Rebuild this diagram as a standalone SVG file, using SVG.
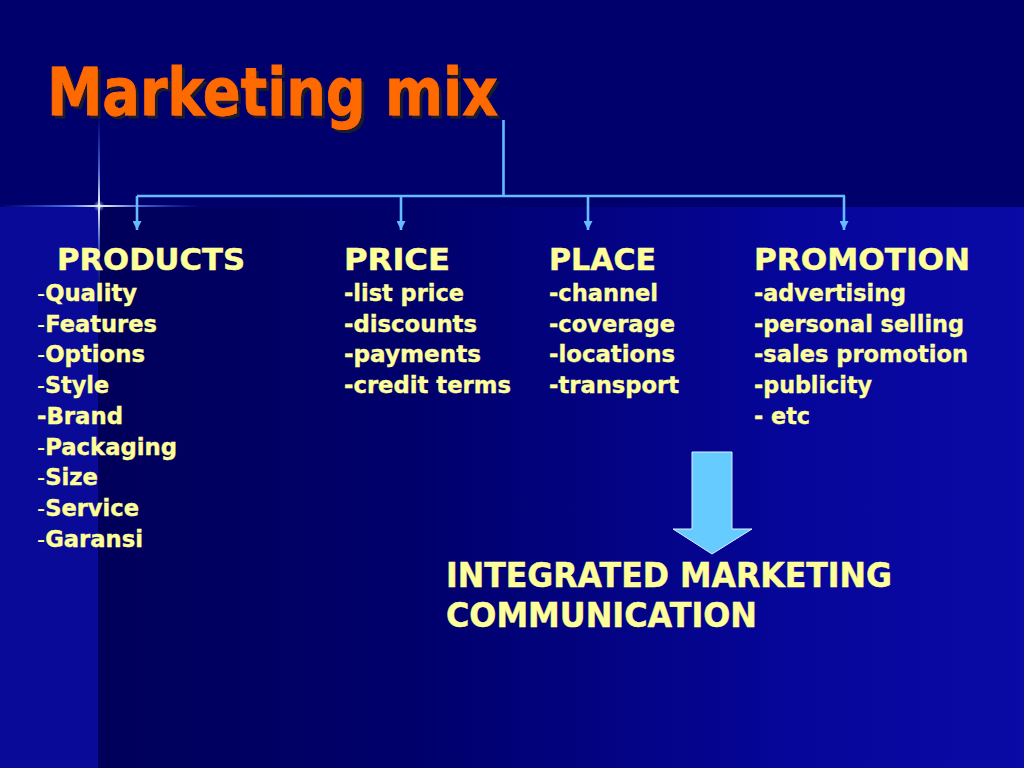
<svg xmlns="http://www.w3.org/2000/svg" width="1024" height="768" viewBox="0 0 1024 768">
<defs>
<style>
.hd{font-family:"DejaVu Sans",Verdana,sans-serif;font-weight:bold;font-size:31px;fill:#ffff99;stroke:#ffff99;stroke-width:0.5}
.it{font-family:"DejaVu Sans",Verdana,sans-serif;font-weight:bold;font-size:23px;fill:#ffff99;stroke:#ffff99;stroke-width:0.4}
.thin{font-weight:normal;stroke-width:0}
.imc{font-family:"DejaVu Sans",Verdana,sans-serif;font-weight:bold;font-size:33px;fill:#ffff99;stroke:#ffff99;stroke-width:0.5}
.title{font-family:"DejaVu Sans",Verdana,sans-serif;font-weight:bold;font-size:65px;fill:#ff6a00;stroke:#ff6a00;stroke-width:0.8}
.conn{stroke:#66bbff;stroke-width:2.6;fill:none}
</style>
<filter id="shadow" x="-5%" y="-20%" width="115%" height="150%">
<feDropShadow dx="3" dy="3" stdDeviation="0.6" flood-color="#1a1a2a" flood-opacity="1"/>
</filter>
<linearGradient id="lower" x1="0" y1="0" x2="1" y2="0">
<stop offset="0" stop-color="#00005a"/>
<stop offset="0.35" stop-color="#00006c"/>
<stop offset="0.75" stop-color="#06069a"/>
<stop offset="1" stop-color="#0a0aa6"/>
</linearGradient>
<linearGradient id="sparkH" x1="0" y1="206" x2="200" y2="206" gradientUnits="userSpaceOnUse">
<stop offset="0" stop-color="#3366ff" stop-opacity="0"/>
<stop offset="0.35" stop-color="#6699ff" stop-opacity="0.8"/>
<stop offset="0.5" stop-color="#ffffee" stop-opacity="1"/>
<stop offset="0.7" stop-color="#6699ff" stop-opacity="0.7"/>
<stop offset="1" stop-color="#3366ff" stop-opacity="0"/>
</linearGradient>
<linearGradient id="sparkV" x1="99" y1="115" x2="99" y2="300" gradientUnits="userSpaceOnUse">
<stop offset="0" stop-color="#3366ff" stop-opacity="0"/>
<stop offset="0.3" stop-color="#6699ff" stop-opacity="0.7"/>
<stop offset="0.49" stop-color="#ffffee" stop-opacity="1"/>
<stop offset="0.7" stop-color="#6699ff" stop-opacity="0.6"/>
<stop offset="1" stop-color="#3366ff" stop-opacity="0"/>
</linearGradient>
<radialGradient id="glow">
<stop offset="0" stop-color="#ffffdd" stop-opacity="0.9"/>
<stop offset="1" stop-color="#6699ff" stop-opacity="0"/>
</radialGradient>
<marker id="ah" viewBox="0 0 10 10" refX="10" refY="5" markerWidth="10" markerHeight="9" markerUnits="userSpaceOnUse" orient="auto">
<path d="M0,0 L10,5 L0,10 z" fill="#66bbff"/>
</marker>
</defs>

<g id="background">
<rect x="0" y="0" width="1024" height="768" fill="#00006c"/>
<rect x="0" y="207" width="98" height="561" fill="#0a0a98"/>
<rect x="98" y="207" width="926" height="561" fill="url(#lower)"/>
<line x1="0" y1="206" x2="200" y2="206" stroke="url(#sparkH)" stroke-width="2"/>
<line x1="99" y1="115" x2="99" y2="300" stroke="url(#sparkV)" stroke-width="2"/>
<circle cx="99" cy="206" r="6" fill="url(#glow)"/>
</g>

<g id="title">
<text class="title" x="47" y="115" textLength="451" lengthAdjust="spacingAndGlyphs" filter="url(#shadow)">Marketing mix</text>
</g>

<g id="connectors">
<path class="conn" d="M503.5,120 V196 M137,196 H845"/>
<line class="conn" x1="137" y1="196" x2="137" y2="230" marker-end="url(#ah)"/>
<line class="conn" x1="401" y1="196" x2="401" y2="230" marker-end="url(#ah)"/>
<line class="conn" x1="588" y1="196" x2="588" y2="230" marker-end="url(#ah)"/>
<line class="conn" x1="844" y1="196" x2="844" y2="230" marker-end="url(#ah)"/>
</g>

<g id="products">
<text class="hd" x="57" y="270" textLength="188" lengthAdjust="spacingAndGlyphs">PRODUCTS</text>
<text class="it" x="37" y="301" textLength="100" lengthAdjust="spacingAndGlyphs"><tspan class="thin">-</tspan>Quality</text>
<text class="it" x="37" y="331.5" textLength="120" lengthAdjust="spacingAndGlyphs"><tspan class="thin">-</tspan>Features</text>
<text class="it" x="37" y="362" textLength="108" lengthAdjust="spacingAndGlyphs"><tspan class="thin">-</tspan>Options</text>
<text class="it" x="37" y="393" textLength="72" lengthAdjust="spacingAndGlyphs"><tspan class="thin">-</tspan>Style</text>
<text class="it" x="37" y="424" textLength="86" lengthAdjust="spacingAndGlyphs">-Brand</text>
<text class="it" x="37" y="454.5" textLength="140" lengthAdjust="spacingAndGlyphs"><tspan class="thin">-</tspan>Packaging</text>
<text class="it" x="37" y="485" textLength="61" lengthAdjust="spacingAndGlyphs"><tspan class="thin">-</tspan>Size</text>
<text class="it" x="37" y="516" textLength="102" lengthAdjust="spacingAndGlyphs"><tspan class="thin">-</tspan>Service</text>
<text class="it" x="37" y="547" textLength="106" lengthAdjust="spacingAndGlyphs"><tspan class="thin">-</tspan>Garansi</text>
</g>

<g id="price">
<text class="hd" x="344" y="270" textLength="106" lengthAdjust="spacingAndGlyphs">PRICE</text>
<text class="it" x="344" y="301" textLength="120" lengthAdjust="spacingAndGlyphs">-list price</text>
<text class="it" x="344" y="331.5" textLength="133" lengthAdjust="spacingAndGlyphs">-discounts</text>
<text class="it" x="344" y="362" textLength="137" lengthAdjust="spacingAndGlyphs">-payments</text>
<text class="it" x="344" y="393" textLength="167" lengthAdjust="spacingAndGlyphs">-credit terms</text>
</g>

<g id="place">
<text class="hd" x="549" y="270" textLength="107" lengthAdjust="spacingAndGlyphs">PLACE</text>
<text class="it" x="549" y="301" textLength="109" lengthAdjust="spacingAndGlyphs">-channel</text>
<text class="it" x="549" y="331.5" textLength="126" lengthAdjust="spacingAndGlyphs">-coverage</text>
<text class="it" x="549" y="362" textLength="126" lengthAdjust="spacingAndGlyphs">-locations</text>
<text class="it" x="549" y="393" textLength="130" lengthAdjust="spacingAndGlyphs">-transport</text>
</g>

<g id="promotion">
<text class="hd" x="754" y="270" textLength="216" lengthAdjust="spacingAndGlyphs">PROMOTION</text>
<text class="it" x="754" y="301" textLength="152" lengthAdjust="spacingAndGlyphs">-advertising</text>
<text class="it" x="754" y="331.5" textLength="210" lengthAdjust="spacingAndGlyphs">-personal selling</text>
<text class="it" x="754" y="362" textLength="214" lengthAdjust="spacingAndGlyphs">-sales promotion</text>
<text class="it" x="754" y="393" textLength="118" lengthAdjust="spacingAndGlyphs">-publicity</text>
<text class="it" x="754" y="424" textLength="56" lengthAdjust="spacingAndGlyphs">- etc</text>
</g>

<g id="big-arrow">
<polygon points="692,452 732,452 732,529 752,529 712,554 673,529 692,529" fill="#66ccff" stroke="#dfefff" stroke-width="1"/>
</g>

<g id="imc">
<text class="imc" x="446" y="587" textLength="446" lengthAdjust="spacingAndGlyphs">INTEGRATED MARKETING</text>
<text class="imc" x="446" y="627" textLength="311" lengthAdjust="spacingAndGlyphs">COMMUNICATION</text>
</g>
</svg>
